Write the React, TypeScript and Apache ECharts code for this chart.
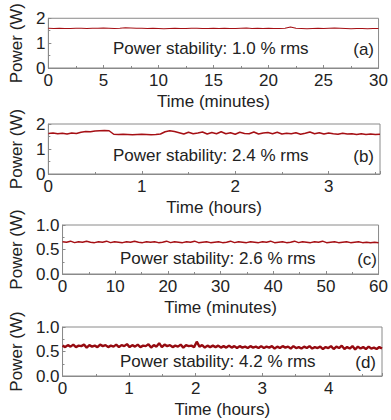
import React, { useEffect, useRef } from "react";
import * as echarts from "echarts";

const seriesA = [1.60,1.59,1.60,1.59,1.59,1.60,1.60,1.59,1.60,1.60,1.61,1.60,1.59,1.60,1.62,1.61,1.60,1.60,1.59,1.60,1.59,1.58,1.59,1.60,1.59,1.59,1.60,1.60,1.59,1.59,1.60,1.59,1.60,1.59,1.59,1.60,1.61,1.59,1.60,1.59,1.60,1.59,1.59,1.60,1.65,1.60,1.59,1.58,1.59,1.60,1.59,1.60,1.61,1.60,1.59,1.58,1.59,1.59,1.58,1.59,1.59];
const seriesB = [1.62,1.64,1.61,1.63,1.60,1.64,1.62,1.67,1.70,1.69,1.72,1.73,1.74,1.73,1.59,1.58,1.59,1.58,1.57,1.58,1.59,1.58,1.57,1.58,1.60,1.69,1.73,1.70,1.65,1.60,1.67,1.61,1.64,1.68,1.60,1.66,1.61,1.69,1.61,1.65,1.59,1.67,1.62,1.61,1.68,1.60,1.64,1.66,1.61,1.67,1.60,1.63,1.61,1.65,1.59,1.63,1.68,1.61,1.65,1.60,1.64,1.61,1.59,1.63,1.60,1.61,1.58,1.61,1.58,1.60,1.58,1.59];
const seriesC = [0.66,0.65,0.67,0.64,0.66,0.65,0.67,0.65,0.64,0.66,0.65,0.67,0.64,0.66,0.65,0.64,0.66,0.65,0.67,0.65,0.64,0.66,0.65,0.66,0.64,0.65,0.67,0.64,0.66,0.65,0.64,0.66,0.65,0.67,0.64,0.65,0.66,0.64,0.65,0.66,0.64,0.65,0.67,0.64,0.66,0.65,0.64,0.66,0.65,0.64,0.66,0.65,0.67,0.64,0.65,0.66,0.64,0.65,0.67,0.64,0.66,0.65,0.64,0.66,0.65,0.67,0.64,0.65,0.66,0.64,0.65,0.66,0.64,0.65,0.66,0.64,0.65,0.64,0.65,0.64];
const seriesD = [0.62,0.59,0.63,0.60,0.64,0.59,0.62,0.61,0.64,0.58,0.63,0.60,0.62,0.59,0.64,0.61,0.63,0.59,0.62,0.60,0.64,0.59,0.63,0.61,0.65,
0.59,0.63,0.60,0.64,0.59,0.62,0.61,0.65,0.58,0.63,0.60,0.67,0.59,0.64,0.61,0.63,0.59,0.62,0.60,0.64,0.58,0.63,0.61,0.62,0.59,
0.70,0.60,0.63,0.58,0.62,0.59,0.62,0.59,0.62,0.58,0.61,0.58,0.62,0.58,0.61,0.57,0.61,0.58,0.60,0.57,0.61,0.58,0.60,0.57,0.61,
0.57,0.60,0.58,0.61,0.56,0.60,0.57,0.61,0.58,0.60,0.56,0.61,0.57,0.59,0.56,0.60,0.57,0.61,0.56,0.59,0.57,0.60,0.55,0.59,0.57,
0.61,0.55,0.60,0.57,0.62,0.55,0.59,0.56,0.61,0.54,0.60,0.56,0.59,0.55,0.60,0.56,0.58,0.55,0.59,0.56];

const xMaxes = [30, 3.55, 60, 4.8];
const xIntervals = [5, 1, 10, 1];
const yMaxes = [2, 2, 1, 1];
const yIntervals = [1, 1, 0.5, 0.5];
const xNames = ["Time (minutes)", "Time (hours)", "Time (minutes)", "Time (hours)"];
const stabilityTexts = ["Power stability: 1.0 % rms", "Power stability: 2.4 % rms", "Power stability: 2.6 % rms", "Power stability: 4.2 % rms"];
const panelTags = ["(a)", "(b)", "(c)", "(d)"];

const FONT = "Liberation Sans, Arial, sans-serif";
const FS = 17;
const TXT = "#222";
const FRAME = "#8a8a8a";
const LINE = "#a50f14";
const LINE_DARK = "#950a10";

const grids = [
  { left: 48, right: 11, top: 15, height: 53 },
  { left: 48, right: 11, top: 124, height: 50 },
  { left: 62, right: 8, top: 225, height: 49 },
  { left: 62, right: 9, top: 327, height: 49 },
];
const yNameGaps = [20, 20, 34, 34];
const textPos = [
  { x: 113, y: 48, tx: 374, ty: 49 },
  { x: 113, y: 155, tx: 374, ty: 156 },
  { x: 120, y: 258, tx: 377, ty: 259 },
  { x: 120, y: 361, tx: 376, ty: 362 },
];

export default function App() {
  const ref = useRef<HTMLDivElement>(null);
  useEffect(() => {
    document.body.style.margin = "0";
    const chart = echarts.init(ref.current!, null, { renderer: "svg" });
    const all = [seriesA, seriesB, seriesC, seriesD];
    const option: any = {
      animation: false,
      grid: grids.map((g) => ({ ...g, show: true, borderColor: FRAME, borderWidth: 1, backgroundColor: "transparent" })),
      xAxis: all.map((_, i) => ({
        type: "value",
        gridIndex: i,
        min: 0,
        max: xMaxes[i],
        interval: xIntervals[i],
        name: xNames[i],
        nameLocation: "middle",
        nameGap: 25,
        nameTextStyle: { fontFamily: FONT, fontSize: FS, color: TXT },
        axisLine: { show: true, lineStyle: { color: FRAME } },
        axisTick: { show: true, inside: true, length: 3, lineStyle: { color: FRAME } },
        minorTick: { show: true, splitNumber: 2, length: 2, lineStyle: { color: FRAME } },
        splitLine: { show: false },
        axisLabel: { fontFamily: FONT, fontSize: FS, color: TXT, margin: 4, showMaxLabel: xMaxes[i] % xIntervals[i] === 0 },
      })),
      yAxis: all.map((_, i) => ({
        type: "value",
        gridIndex: i,
        min: 0,
        max: yMaxes[i],
        interval: yIntervals[i],
        name: "Power (W)",
        nameLocation: "middle",
        nameGap: yNameGaps[i],
        nameTextStyle: { fontFamily: FONT, fontSize: FS, color: TXT },
        axisLine: { show: true, lineStyle: { color: FRAME } },
        axisTick: { show: true, inside: true, length: 3, lineStyle: { color: FRAME } },
        minorTick: { show: true, splitNumber: 2, length: 2, lineStyle: { color: FRAME } },
        splitLine: { show: false },
        axisLabel: {
          fontFamily: FONT, fontSize: FS, color: TXT, margin: 3,
          formatter: (v: number) => (yIntervals[i] < 1 ? v.toFixed(1) : String(v)),
        },
      })),
      series: all.map((arr, i) => ({
        type: "line",
        xAxisIndex: i,
        yAxisIndex: i,
        showSymbol: false,
        symbol: "none",
        lineStyle: { color: i === 3 ? LINE_DARK : LINE, width: i === 3 ? 2.4 : i === 0 ? 1.1 : 1.5 },
        data: arr.map((v, k) => [(k * xMaxes[i]) / (arr.length - 1), v]),
      })),
      graphic: textPos.flatMap((p, i) => [
        {
          type: "text", x: p.x, y: p.y,
          style: { text: stabilityTexts[i], font: `${FS}px ${FONT}`, fill: TXT, textAlign: "left", textVerticalAlign: "middle", align: "left", verticalAlign: "middle" },
        },
        {
          type: "text", x: p.tx, y: p.ty,
          style: { text: panelTags[i], font: `${FS}px ${FONT}`, fill: TXT, textAlign: "right", textVerticalAlign: "middle", align: "right", verticalAlign: "middle" },
        },
      ]),
    };
    chart.setOption(option);
    return () => chart.dispose();
  }, []);
  return <div ref={ref} style={{ width: 391, height: 420 }} />;
}
